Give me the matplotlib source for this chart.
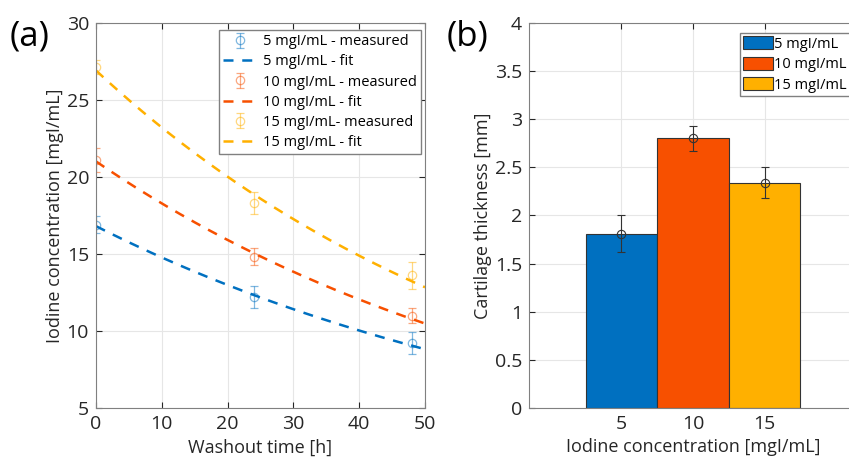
import numpy as np
import matplotlib
matplotlib.use("Agg")
import matplotlib.pyplot as plt

plt.rcParams['font.family'] = ['Open Sans', 'DejaVu Sans']

# (a) washout data
washout_time = [0, 24, 48]
conc_5 = [16.9, 12.2, 9.2]
err_5 = [0.55, 0.7, 0.7]
conc_10 = [21.1, 14.8, 11.0]
err_10 = [0.8, 0.55, 0.5]
conc_15 = [27.1, 18.3, 13.6]
err_15 = [0.45, 0.7, 0.85]
# exponential fit params: c = a*exp(-k*t)
fit_a = [16.8, 21.0, 26.9]
fit_k = [0.0129, 0.0139, 0.0148]

# (b) thickness data
bar_labels = ['5', '10', '15']
thickness = [1.81, 2.80, 2.34]
thickness_err = [0.19, 0.13, 0.16]

blue = '#0070C0'
orange = '#F75000'
yellow = '#FFB000'
colors = [blue, orange, yellow]

fig = plt.figure(figsize=(8.49, 4.59), dpi=100)
ax1 = fig.add_axes([96/849, 51/459, 329/849, 385.3/459])
ax2 = fig.add_axes([529/849, 51/459, 328/849, 385.3/459])

tl = np.linspace(0, 50, 200)
names = ['5 mgI/mL - measured', '10 mgI/mL - measured', '15 mgI/mL- measured']
fnames = ['5 mgI/mL - fit', '10 mgI/mL - fit', '15 mgI/mL - fit']
handles = []
for i, (c, e) in enumerate([(conc_5, err_5), (conc_10, err_10), (conc_15, err_15)]):
    h1 = ax1.errorbar(washout_time, c, yerr=e, fmt='o', mfc='none', mec=colors[i], ecolor=colors[i],
                      ms=6, mew=0.9, elinewidth=0.9, capsize=3, capthick=0.9, alpha=0.5, label=names[i])
    h2, = ax1.plot(tl, fit_a[i]*np.exp(-fit_k[i]*tl), '--', color=colors[i], lw=1.8,
                   dashes=(4, 3.5), label=fnames[i])
    handles += [h1, h2]

ax1.set_xlim(0, 50)
ax1.set_ylim(5, 30)
ax1.set_xticks([0, 10, 20, 30, 40, 50])
ax1.set_yticks([5, 10, 15, 20, 25, 30])
ax1.set_xlabel('Washout time [h]', fontsize=13, color='#262626', labelpad=4)
ax1.set_ylabel('Iodine concentration [mgI/mL]', fontsize=13, color='#262626', labelpad=2)
ax1.legend(handles=handles, loc='upper right', bbox_to_anchor=(0.988, 0.981), borderaxespad=0,
           fontsize=10.5, frameon=True, fancybox=False, edgecolor='#808080', framealpha=1,
           handlelength=2.3, handletextpad=0.4, labelspacing=0.35, borderpad=0.3)
ax1.text(-0.262, 0.965, '(a)', transform=ax1.transAxes, fontsize=25, va='center', ha='left')

x = np.arange(1, 4)
for i in range(3):
    ax2.bar(x[i], thickness[i], width=1.0, color=colors[i], edgecolor='#333333', lw=0.8,
            label=bar_labels[i] + ' mgI/mL', zorder=2)
ax2.errorbar(x, thickness, yerr=thickness_err, fmt='o', mfc='none', mec='#333333', ecolor='#333333',
             ms=6, mew=0.8, elinewidth=0.8, capsize=3, capthick=0.8, zorder=3)
ax2.set_xlim(-0.29, 4.29)
ax2.set_ylim(0, 4)
ax2.set_xticks(x)
ax2.set_xticklabels(bar_labels)
ax2.set_yticks(np.arange(0, 4.01, 0.5))
ax2.set_yticklabels(['0', '0.5', '1', '1.5', '2', '2.5', '3', '3.5', '4'])
ax2.set_xlabel('Iodine concentration [mgI/mL]', fontsize=13, color='#262626', labelpad=4)
ax2.set_ylabel('Cartilage thickness [mm]', fontsize=13, color='#262626', labelpad=2)
ax2.legend(loc='upper left', bbox_to_anchor=(0.643, 0.973), borderaxespad=0, fontsize=10.5,
           frameon=True, fancybox=False, edgecolor='#808080', framealpha=1,
           handlelength=2.1, handleheight=1.0, handletextpad=0.05, labelspacing=0.35, borderpad=0.2)
ax2.text(-0.25, 0.965, '(b)', transform=ax2.transAxes, fontsize=25, va='center', ha='left')

for ax in (ax1, ax2):
    ax.grid(True, color='#e6e6e6', lw=0.8, zorder=0)
    ax.set_axisbelow(True)
    ax.tick_params(direction='in', top=True, right=True, labelsize=14, colors='#262626',
                   length=4, width=0.8, pad=5)
    for s in ax.spines.values():
        s.set_color('#808080')
        s.set_linewidth(0.8)

fig.savefig('out.png', dpi=100)
